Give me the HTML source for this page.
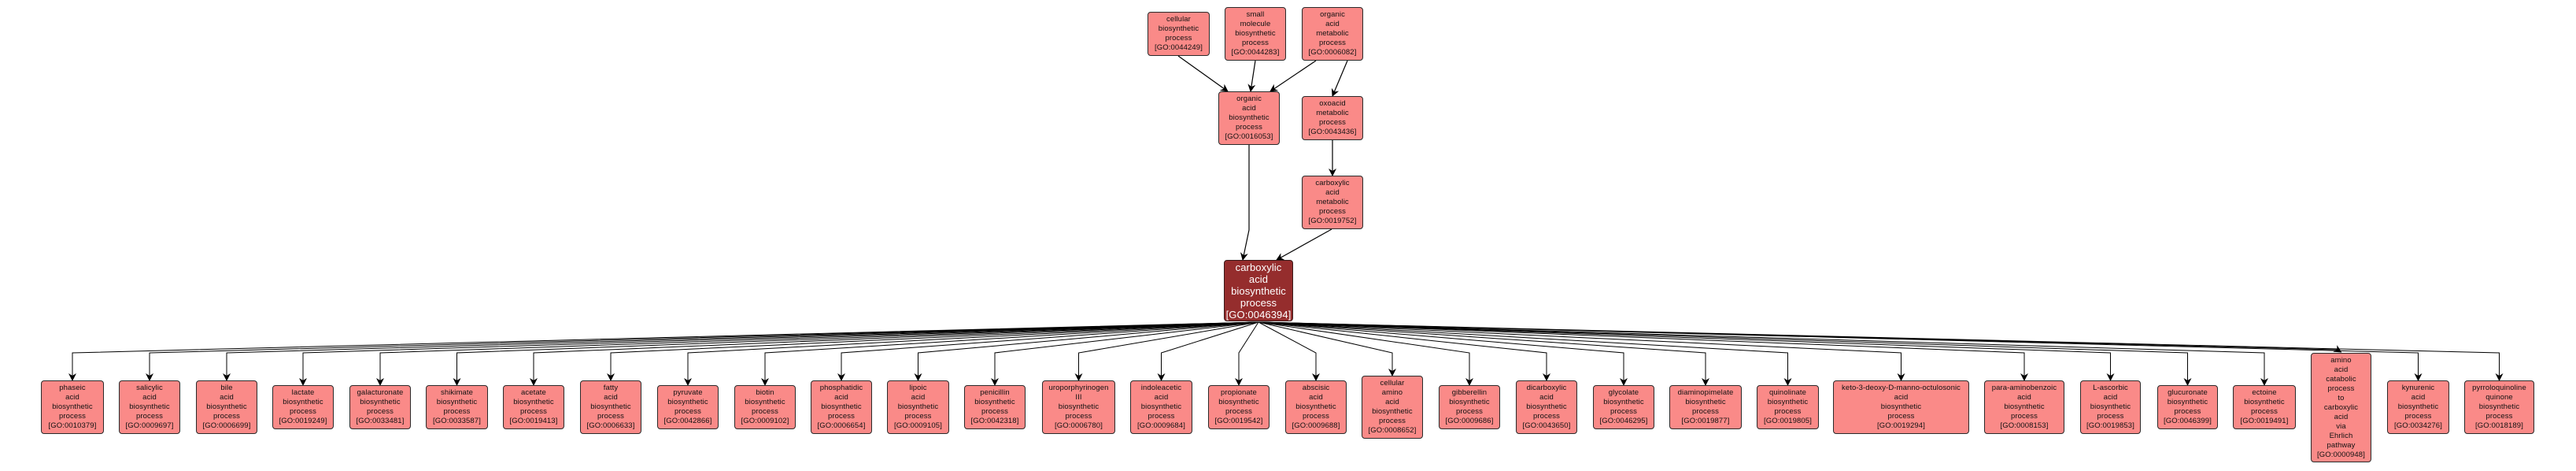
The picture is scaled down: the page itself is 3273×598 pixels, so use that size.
<!DOCTYPE html>
<html><head><meta charset="utf-8">
<style>
html,body{margin:0;padding:0;background:#fff;}
body{width:3273px;height:598px;position:relative;overflow:hidden;font-family:"Liberation Sans",Arial,sans-serif;}
.n{position:absolute;box-sizing:border-box;background:#fa8a88;border:1px solid #2a2a2a;border-radius:4px;display:flex;align-items:center;justify-content:center;text-align:center;font-size:9.5px;line-height:12px;color:#111;letter-spacing:0.1px;}
.m{background:#952d2d;color:#fff;font-size:13px;line-height:15px;border-color:#3a1a1a;}
svg{position:absolute;left:0;top:0;}
</style></head><body>
<svg width="3273" height="598">
<defs><marker id="a" markerWidth="10" markerHeight="10" refX="9" refY="5" orient="auto" markerUnits="userSpaceOnUse"><path d="M0,0 L10,5 L0,10 L3,5 z" fill="#000"/></marker></defs>
<g fill="none" stroke="#000" stroke-width="1.2" marker-end="url(#a)">
<path d="M1497 71 L1560 116"/>
<path d="M1595 77 L1589 116"/>
<path d="M1672 77 L1614 116"/>
<path d="M1712 77 L1693 122"/>
<path d="M1693 178 L1693 223"/>
<path d="M1692 291 L1622 330"/>
<path d="M1587 184 L1587 292 L1579 330"/>
</g>
<g id="e" fill="none" stroke="#000" stroke-width="1" marker-end="url(#a)"></g>
</svg>
<div class="n" style="left:1458px;top:15px;width:79px;height:56px">cellular<br>biosynthetic<br>process<br>[GO:0044249]</div>
<div class="n" style="left:1556px;top:9px;width:78px;height:68px">small<br>molecule<br>biosynthetic<br>process<br>[GO:0044283]</div>
<div class="n" style="left:1654px;top:9px;width:78px;height:68px">organic<br>acid<br>metabolic<br>process<br>[GO:0006082]</div>
<div class="n" style="left:1548px;top:116px;width:78px;height:68px">organic<br>acid<br>biosynthetic<br>process<br>[GO:0016053]</div>
<div class="n" style="left:1654px;top:122px;width:78px;height:56px">oxoacid<br>metabolic<br>process<br>[GO:0043436]</div>
<div class="n" style="left:1654px;top:223px;width:78px;height:68px">carboxylic<br>acid<br>metabolic<br>process<br>[GO:0019752]</div>
<div class="n m" style="left:1555px;top:330px;width:88px;height:78px">carboxylic<br>acid<br>biosynthetic<br>process<br>[GO:0046394]</div>
<div id="b"></div>
<script>
var N=[
[52,132,"phaseic<br>acid<br>biosynthetic<br>process<br>[GO:0010379]",5],
[151,229,"salicylic<br>acid<br>biosynthetic<br>process<br>[GO:0009697]",5],
[249,327,"bile<br>acid<br>biosynthetic<br>process<br>[GO:0006699]",5],
[346,424,"lactate<br>biosynthetic<br>process<br>[GO:0019249]",4],
[444,522,"galacturonate<br>biosynthetic<br>process<br>[GO:0033481]",4],
[541,620,"shikimate<br>biosynthetic<br>process<br>[GO:0033587]",4],
[639,717,"acetate<br>biosynthetic<br>process<br>[GO:0019413]",4],
[737,815,"fatty<br>acid<br>biosynthetic<br>process<br>[GO:0006633]",5],
[835,913,"pyruvate<br>biosynthetic<br>process<br>[GO:0042866]",4],
[933,1011,"biotin<br>biosynthetic<br>process<br>[GO:0009102]",4],
[1030,1108,"phosphatidic<br>acid<br>biosynthetic<br>process<br>[GO:0006654]",5],
[1127,1206,"lipoic<br>acid<br>biosynthetic<br>process<br>[GO:0009105]",5],
[1225,1303,"penicillin<br>biosynthetic<br>process<br>[GO:0042318]",4],
[1324,1417,"uroporphyrinogen<br>III<br>biosynthetic<br>process<br>[GO:0006780]",5],
[1436,1515,"indoleacetic<br>acid<br>biosynthetic<br>process<br>[GO:0009684]",5],
[1535,1613,"propionate<br>biosynthetic<br>process<br>[GO:0019542]",4],
[1633,1711,"abscisic<br>acid<br>biosynthetic<br>process<br>[GO:0009688]",5],
[1730,1808,"cellular<br>amino<br>acid<br>biosynthetic<br>process<br>[GO:0008652]",6],
[1828,1906,"gibberellin<br>biosynthetic<br>process<br>[GO:0009686]",4],
[1926,2004,"dicarboxylic<br>acid<br>biosynthetic<br>process<br>[GO:0043650]",5],
[2024,2102,"glycolate<br>biosynthetic<br>process<br>[GO:0046295]",4],
[2121,2213,"diaminopimelate<br>biosynthetic<br>process<br>[GO:0019877]",4],
[2232,2311,"quinolinate<br>biosynthetic<br>process<br>[GO:0019805]",4],
[2329,2502,"keto-3-deoxy-D-manno-octulosonic<br>acid<br>biosynthetic<br>process<br>[GO:0019294]",5],
[2521,2623,"para-aminobenzoic<br>acid<br>biosynthetic<br>process<br>[GO:0008153]",5],
[2643,2720,"L-ascorbic<br>acid<br>biosynthetic<br>process<br>[GO:0019853]",5],
[2741,2818,"glucuronate<br>biosynthetic<br>process<br>[GO:0046399]",4],
[2837,2917,"ectoine<br>biosynthetic<br>process<br>[GO:0019491]",4],
[2936,3013,"amino<br>acid<br>catabolic<br>process<br>to<br>carboxylic<br>acid<br>via<br>Ehrlich<br>pathway<br>[GO:0000948]",10],
[3033,3112,"kynurenic<br>acid<br>biosynthetic<br>process<br>[GO:0034276]",5],
[3131,3220,"pyrroloquinoline<br>quinone<br>biosynthetic<br>process<br>[GO:0018189]",5]
];
var T={4:[489,545],5:[483,551],6:[477,557],10:[448,587]};
var h="",p="";
N.forEach(function(n){
 var t=T[n[3]];
 h+='<div class="n" style="left:'+n[0]+'px;top:'+t[0]+'px;width:'+(n[1]-n[0])+'px;height:'+(t[1]-t[0])+'px">'+n[2]+'</div>';
 var cx=(n[0]+n[1])/2;
 if(n[3]==10){p+='<path d="M1599 409 L'+(cx-5)+' 444 L'+cx+' 447"/>';}
 else p+='<path d="M1599 409 L'+cx+' 448 L'+cx+' '+t[0]+'"/>';
});
document.getElementById("b").innerHTML=h;
document.getElementById("e").innerHTML=p;
</script>
</body></html>
